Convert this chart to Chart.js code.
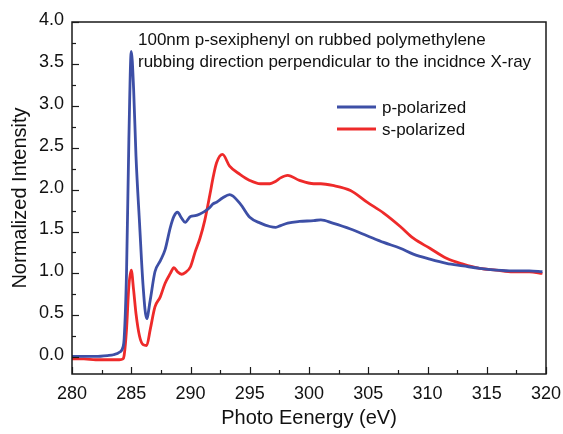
<!DOCTYPE html>
<html>
<head>
<meta charset="utf-8">
<script src="https://cdn.jsdelivr.net/npm/chart.js@4/dist/chart.umd.min.js"></script>
<style>
  html, body { margin: 0; padding: 0; background: #ffffff; }
  #wrap { width: 563px; height: 434px; position: relative; }
</style>
</head>
<body>
<div id="wrap"><canvas id="c" width="563" height="434"></canvas></div>
<script>
// ---- data ----
const energy = [280, 281, 282, 283, 283.5, 284, 284.3, 284.4, 284.6, 284.8, 285.0, 285.2, 285.4, 285.7, 286.0, 286.3, 286.6, 287.0, 287.45, 287.85, 288.3, 288.6, 288.9, 289.25, 289.55, 290.0, 290.4, 290.8, 291.2, 291.65, 291.9, 292.2, 292.7, 293.3, 294.2, 295.0, 295.9, 296.7, 297.2, 297.6, 298.2, 299.2, 300.4, 301.0, 302.0, 303.5, 304.9, 306.3, 307.7, 308.8, 310.2, 311.6, 313.0, 314.4, 315.8, 317.2, 318.6, 319.7];
const pPolarized = [0.01, 0.01, 0.01, 0.02, 0.03, 0.06, 0.12, 0.22, 1.0, 2.6, 3.65, 3.2, 2.4, 1.6, 0.85, 0.46, 0.68, 1.02, 1.15, 1.28, 1.55, 1.68, 1.73, 1.66, 1.61, 1.68, 1.69, 1.71, 1.74, 1.79, 1.83, 1.85, 1.90, 1.94, 1.83, 1.67, 1.60, 1.56, 1.55, 1.57, 1.60, 1.62, 1.63, 1.64, 1.60, 1.53, 1.45, 1.37, 1.30, 1.23, 1.17, 1.12, 1.09, 1.06, 1.04, 1.03, 1.03, 1.02];
const sPolarized = [-0.02, -0.02, -0.03, -0.03, -0.03, -0.03, -0.02, 0.02, 0.33, 0.85, 1.04, 0.80, 0.52, 0.25, 0.15, 0.14, 0.33, 0.60, 0.72, 0.88, 1.00, 1.07, 1.02, 0.99, 1.01, 1.08, 1.26, 1.42, 1.63, 1.95, 2.14, 2.32, 2.42, 2.28, 2.18, 2.11, 2.07, 2.07, 2.10, 2.14, 2.17, 2.11, 2.07, 2.07, 2.05, 1.99, 1.85, 1.72, 1.56, 1.42, 1.30, 1.18, 1.11, 1.06, 1.04, 1.02, 1.02, 1.00];
const seriesNames = ['p-polarized', 's-polarized'];
const xTickValues = [280, 285, 290, 295, 300, 305, 310, 315, 320];
const yTickValues = [0.0, 0.5, 1.0, 1.5, 2.0, 2.5, 3.0, 3.5, 4.0];
const annotationLines = ['100nm p-sexiphenyl on rubbed polymethylene', 'rubbing direction perpendicular to the incidnce X-ray'];

const FONT = '"Liberation Sans", Arial, Helvetica, sans-serif';
const BLUE = '#3d4fa6';
const RED = '#ee2a2a';

const toPoints = (ys) => energy.map((x, i) => ({ x: x, y: ys[i] }));

const framePlugin = {
  id: 'frame',
  afterDraw(chart) {
    const ctx = chart.ctx;
    const a = chart.chartArea;
    const xs = chart.scales.x, ys = chart.scales.y;
    ctx.save();
    ctx.strokeStyle = '#1a1a1a';
    ctx.lineWidth = 1.5;
    ctx.strokeRect(a.left, a.top, a.right - a.left, a.bottom - a.top);
    ctx.lineWidth = 1.2;
    // x ticks (inward), major every 5, minor every 2.5
    for (let v = xs.min; v <= xs.max + 1e-9; v += 2.5) {
      const px = Math.round(xs.getPixelForValue(v)) + 0.5;
      const major = Math.abs(v / 5 - Math.round(v / 5)) < 1e-6;
      const len = major ? 7 : 4;
      ctx.beginPath();
      ctx.moveTo(px, a.bottom);
      ctx.lineTo(px, a.bottom - len);
      ctx.stroke();
    }
    // y ticks (inward), major every 0.5, minor every 0.25
    for (let v = 0; v <= ys.max + 1e-9; v += 0.25) {
      const py = Math.round(ys.getPixelForValue(v)) + 0.5;
      const major = Math.abs(v / 0.5 - Math.round(v / 0.5)) < 1e-6;
      const len = major ? 7 : 4;
      ctx.beginPath();
      ctx.moveTo(a.left, py);
      ctx.lineTo(a.left + len, py);
      ctx.stroke();
    }
    // annotation text
    ctx.fillStyle = '#111';
    ctx.font = '17px ' + FONT;
    ctx.textBaseline = 'alphabetic';
    ctx.textAlign = 'left';
    ctx.fillText(annotationLines[0], 138, 45);
    ctx.fillText(annotationLines[1], 138, 67);
    // legend
    const ds = chart.data.datasets;
    const ly = [107, 129];
    ds.forEach((d, i) => {
      ctx.strokeStyle = d.borderColor;
      ctx.lineWidth = 2.8;
      ctx.beginPath();
      ctx.moveTo(337, ly[i]);
      ctx.lineTo(376, ly[i]);
      ctx.stroke();
      ctx.fillStyle = '#111';
      ctx.fillText(d.label, 382, ly[i] + 6);
    });
    ctx.restore();
  }
};

new Chart(document.getElementById('c'), {
  type: 'line',
  data: {
    datasets: [
      { label: seriesNames[0], data: toPoints(pPolarized), borderColor: BLUE, borderWidth: 2.8, pointRadius: 0, cubicInterpolationMode: 'monotone', fill: false },
      { label: seriesNames[1], data: toPoints(sPolarized), borderColor: RED, borderWidth: 2.8, pointRadius: 0, cubicInterpolationMode: 'monotone', fill: false }
    ]
  },
  options: {
    responsive: false,
    animation: false,
    layout: { padding: { left: 0, right: 17, top: 22, bottom: 0 } },
    plugins: { legend: { display: false }, tooltip: { enabled: false } },
    scales: {
      x: {
        type: 'linear', min: 280, max: 320,
        afterBuildTicks: (s) => { s.ticks = xTickValues.map(v => ({ value: v })); },
        afterFit: (s) => { s.height = 60; s.paddingLeft = 0; s.paddingRight = 0; },
        grid: { display: false, drawTicks: false },
        border: { display: false },
        ticks: { color: '#111', font: { family: FONT, size: 18 }, padding: 9, maxRotation: 0, callback: (v) => String(v) },
        title: { display: true, text: 'Photo Eenergy (eV)', color: '#111', font: { family: FONT, size: 20 }, padding: { top: 4, bottom: 4 } }
      },
      y: {
        type: 'linear', min: -0.2, max: 4.0,
        afterBuildTicks: (s) => { s.ticks = yTickValues.map(v => ({ value: v })); },
        afterFit: (s) => { s.width = 72; s.paddingTop = 0; s.paddingBottom = 0; },
        grid: { display: false, drawTicks: false },
        border: { display: false },
        ticks: { color: '#111', font: { family: FONT, size: 18 }, padding: 8, labelOffset: -2, callback: (v) => Number(v).toFixed(1) },
        title: { display: true, text: 'Normalized Intensity', color: '#111', font: { family: FONT, size: 20 }, padding: { top: 8, bottom: 0 } }
      }
    }
  },
  plugins: [framePlugin]
});
</script>
</body>
</html>
